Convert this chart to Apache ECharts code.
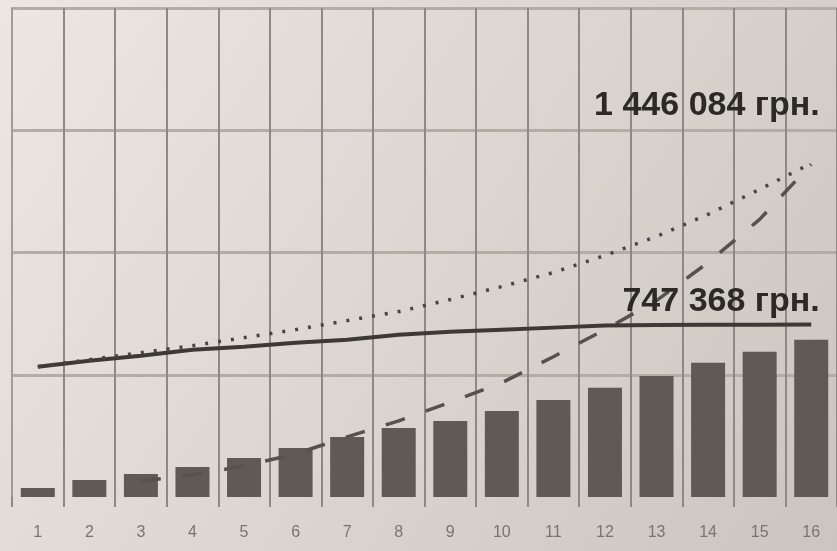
<!DOCTYPE html>
<html>
<head>
    <meta charset="utf-8" />
    <title>Chart</title>
    <script src="https://cdnjs.cloudflare.com/ajax/libs/echarts/6.0.0/echarts.min.js"></script>
    <style>
        body, html {
            margin: 0;
            padding: 0;
            width: 100%;
            height: 100%;
            background: #dcd7d1;
        }
        #chart {
            width: 837px;
            height: 551px;
        }
    </style>
</head>
<body>
<div id="chart"></div>
<script type="text/javascript">
    // periods 1..16
    var categories = ['1', '2', '3', '4', '5', '6', '7', '8', '9', '10', '11', '12', '13', '14', '15', '16'];
    // bars
    var barValues = [39000, 73800, 99800, 130200, 169300, 212700, 260400, 299500, 329800, 373200, 421000, 473100, 525100, 581600, 629300, 681400];
    // solid line (ends at 747 368)
    var solidValues = [564850, 590900, 612600, 638700, 651700, 669100, 682200, 703900, 716900, 725600, 734300, 743000, 745500, 747000, 747200, 747368];
    // dotted line (ends at 1 446 084)
    var dottedValues = [564850, 595300, 625700, 656100, 690900, 725600, 764700, 803800, 856000, 912500, 973300, 1047100, 1129700, 1225300, 1333900, 1446084];
    // dashed line, hidden behind the first bars
    var dashedValues = [null, null, 69500, 95600, 134700, 186800, 260700, 330200, 410600, 495300, 608300, 725600, 851600, 1016700, 1203600, 1442500];
    var solidLabel = '747 368 грн.';
    var dottedLabel = '1 446 084 грн.';

    var chart = echarts.init(document.getElementById('chart'));
    var last = categories.length - 1;

    function endLabel(text, dy) {
        return {
            show: true,
            position: 'left',
            offset: [14, dy],
            formatter: text,
            fontSize: 34,
            fontWeight: 'bold',
            fontFamily: 'Liberation Sans',
            color: '#2c2926'
        };
    }

    var option = {
        animation: false,
        backgroundColor: {
            type: 'linear', x: 0, y: 0, x2: 1, y2: 1,
            colorStops: [
                { offset: 0, color: '#ece7e2' },
                { offset: 1, color: '#cbc5c0' }
            ]
        },
        grid: {
            left: 12,
            right: -4,
            top: 8,
            bottom: 54
        },
        xAxis: {
            type: 'category',
            data: categories,
            boundaryGap: true,
            axisLine: { show: false },
            axisTick: {
                show: true,
                length: 10,
                lineStyle: { color: '#8f8985', width: 2 }
            },
            axisLabel: {
                margin: 28,
                fontSize: 16,
                fontFamily: 'Liberation Sans',
                color: '#7a746f'
            },
            splitLine: {
                show: true,
                lineStyle: { color: '#8f8985', width: 2 }
            }
        },
        yAxis: {
            type: 'value',
            min: 0,
            max: 2120000,
            interval: 530000,
            axisLine: { show: true, lineStyle: { color: '#a29c97', width: 2 } },
            axisTick: { show: false },
            axisLabel: { show: false },
            splitLine: {
                show: true,
                showMinLine: false,
                lineStyle: { color: '#b3ada8', width: 3 }
            }
        },
        series: [
            {
                name: 'dashed',
                type: 'line',
                data: dashedValues,
                showSymbol: false,
                symbol: 'none',
                lineStyle: { color: '#57524e', width: 3.5, type: [20, 22] }
            },
            {
                name: 'bars',
                type: 'bar',
                data: barValues,
                barWidth: 34,
                itemStyle: { color: '#5f5a56' }
            },
            {
                name: 'solid',
                type: 'line',
                data: solidValues,
                showSymbol: false,
                symbol: 'none',
                lineStyle: { color: '#3d3936', width: 4 },
                markPoint: {
                    symbol: 'circle',
                    symbolSize: 1,
                    itemStyle: { color: 'rgba(0,0,0,0)' },
                    data: [{ coord: [last, solidValues[last]], value: solidValues[last] }],
                    label: endLabel(solidLabel, -23)
                }
            },
            {
                name: 'dotted',
                type: 'line',
                data: dottedValues,
                showSymbol: false,
                symbol: 'none',
                lineStyle: { color: '#4a4542', width: 3.5, type: [3, 10] },
                markPoint: {
                    symbol: 'circle',
                    symbolSize: 1,
                    itemStyle: { color: 'rgba(0,0,0,0)' },
                    data: [{ coord: [last, dottedValues[last]], value: dottedValues[last] }],
                    label: endLabel(dottedLabel, -58)
                }
            }
        ]
    };
    chart.setOption(option);
</script>
</body>
</html>
